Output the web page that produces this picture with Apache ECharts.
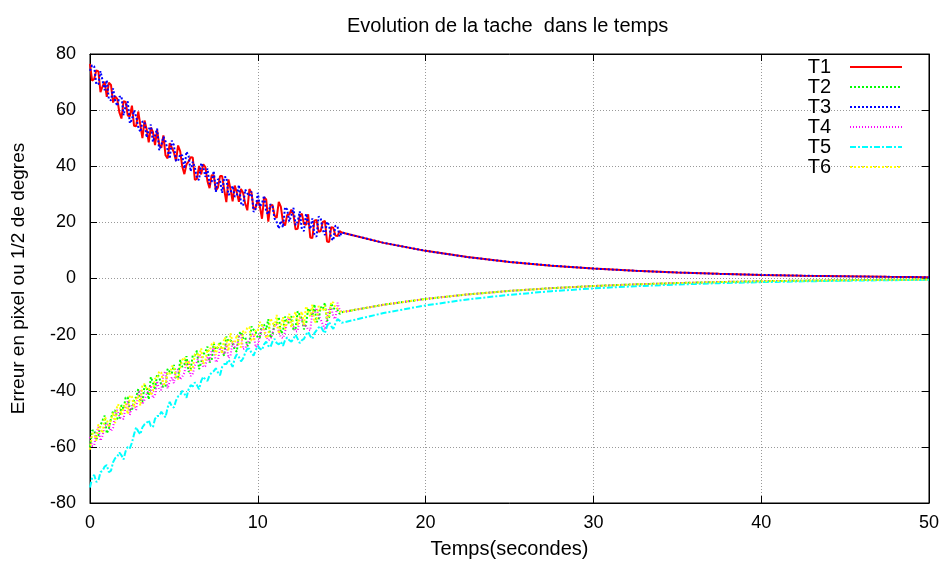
<!DOCTYPE html>
<html>
<head>
<meta charset="utf-8">
<title>Evolution de la tache</title>
<script src="https://cdn.jsdelivr.net/npm/echarts@6/dist/echarts.min.js"></script>
<style>
  html, body { margin: 0; padding: 0; background: #fff; }
  #chart { width: 942px; height: 564px; }
</style>
</head>
<body>
<div id="chart"></div>
<script>
// temps (s) de la partie bruitee, puis de la partie lisse
const tNoisy = [0, 0.125, 0.25, 0.375, 0.5, 0.625, 0.75, 0.875, 1, 1.125, 1.25, 1.375, 1.5, 1.625, 1.75, 1.875,
  2, 2.125, 2.25, 2.375, 2.5, 2.625, 2.75, 2.875, 3, 3.125, 3.25, 3.375, 3.5, 3.625, 3.75, 3.875,
  4, 4.125, 4.25, 4.375, 4.5, 4.625, 4.75, 4.875, 5, 5.125, 5.25, 5.375, 5.5, 5.625, 5.75, 5.875,
  6, 6.125, 6.25, 6.375, 6.5, 6.625, 6.75, 6.875, 7, 7.125, 7.25, 7.375, 7.5, 7.625, 7.75, 7.875,
  8, 8.125, 8.25, 8.375, 8.5, 8.625, 8.75, 8.875, 9, 9.125, 9.25, 9.375, 9.5, 9.625, 9.75, 9.875,
  10, 10.125, 10.25, 10.375, 10.5, 10.625, 10.75, 10.875, 11, 11.125, 11.25, 11.375, 11.5, 11.625, 11.75, 11.875,
  12, 12.125, 12.25, 12.375, 12.5, 12.625, 12.75, 12.875, 13, 13.125, 13.25, 13.375, 13.5, 13.625, 13.75, 13.875,
  14, 14.125, 14.25, 14.375, 14.5, 14.625, 14.75, 14.875]
const tSmooth = [15, 17.5, 20, 22.5, 25, 27.5, 30, 32.5, 35, 37.5, 40, 42.5, 45, 47.5, 50]

const t1Noisy = [76.5, 70.5, 71.1, 74.2, 73.8, 66.4, 68.5, 70.1, 64.7, 69.8, 69.0, 62.7, 64.9, 64.0, 59.2, 57.0,
  63.2, 62.9, 58.1, 57.8, 61.6, 54.4, 54.2, 59.5, 54.7, 50.0, 56.3, 53.2, 48.5, 53.8, 52.2, 47.5,
  52.9, 47.7, 46.6, 51.0, 43.9, 42.8, 48.2, 46.6, 45.0, 41.9, 47.4, 45.3, 39.8, 37.2, 40.7, 41.7,
  43.2, 43.1, 35.1, 35.6, 40.1, 37.1, 40.7, 39.7, 34.7, 32.2, 36.8, 36.8, 31.4, 32.4, 36.5, 36.5,
  31.6, 27.2, 35.3, 31.9, 27.5, 33.1, 30.7, 27.3, 31.9, 30.5, 26.7, 24.3, 31.9, 30.5, 24.7, 25.3,
  28.0, 25.6, 21.3, 29.0, 28.2, 20.3, 26.0, 26.2, 22.4, 21.6, 27.3, 25.5, 20.2, 18.9, 22.6, 22.8,
  24.5, 22.7, 17.5, 17.7, 22.4, 23.1, 19.4, 19.1, 22.9, 14.6, 14.4, 20.6, 20.9, 16.6, 16.9, 20.2,
  20.5, 13.2, 13.0, 18.3, 18.1, 15.3, 15.1, 16.9]
const t3Noisy = [74.0, 76.0, 75.6, 69.2, 69.3, 73.9, 70.5, 67.1, 70.7, 63.8, 63.5, 67.7, 63.4, 61.5, 64.7, 65.0,
  58.2, 61.4, 63.1, 55.3, 56.6, 59.9, 57.7, 54.0, 52.2, 56.0, 55.8, 50.2, 53.0, 54.8, 48.7, 51.0,
  53.4, 45.7, 47.6, 50.5, 48.9, 45.8, 42.7, 49.1, 47.5, 41.9, 41.9, 44.3, 43.8, 39.2, 45.2, 43.7,
  38.2, 41.6, 39.6, 35.6, 35.1, 41.1, 39.7, 36.2, 39.2, 33.7, 34.3, 38.3, 30.9, 35.4, 35.0, 30.5,
  36.1, 36.2, 29.8, 30.4, 33.0, 29.1, 29.7, 33.3, 26.9, 26.0, 31.7, 30.3, 29.4, 31.0, 23.7, 24.8,
  30.5, 25.6, 26.8, 29.5, 23.7, 22.8, 26.5, 25.7, 21.4, 20.1, 17.8, 20.5, 18.2, 25.4, 24.6, 20.3,
  22.5, 25.2, 19.0, 20.2, 23.9, 17.6, 16.9, 23.1, 19.9, 17.6, 21.4, 15.6, 14.9, 22.1, 21.4, 17.2,
  15.5, 20.2, 19.0, 14.3, 13.6, 18.8, 18.6, 14.9]
const upperSmooth = [16.4, 12.7, 9.85, 7.63, 5.91, 4.58, 3.55, 2.75, 2.13, 1.65, 1.28, 0.99, 0.77, 0.59, 0.46]

const t2Noisy = [-60.0, -54.2, -54.0, -57.3, -56.0, -52.3, -50.6, -48.9, -55.2, -53.5, -49.9, -47.2, -47.0, -49.9, -50.2, -45.1,
  -46.5, -42.4, -42.3, -46.7, -47.1, -43.0, -42.4, -39.4, -43.8, -43.8, -38.2, -38.7, -43.1, -35.1, -37.1, -39.6,
  -34.1, -35.1, -38.1, -38.6, -38.6, -32.2, -33.2, -33.8, -30.8, -35.4, -35.4, -29.0, -31.5, -30.6, -27.7, -33.3,
  -32.3, -27.4, -27.5, -25.7, -32.3, -29.9, -27.0, -26.2, -24.3, -29.9, -29.0, -23.2, -25.3, -24.5, -22.6, -26.3,
  -27.5, -20.7, -22.3, -22.0, -23.2, -25.4, -26.1, -19.8, -19.0, -21.2, -20.9, -24.1, -23.3, -17.1, -18.3, -19.0,
  -21.2, -21.0, -16.2, -16.5, -18.2, -14.5, -21.2, -20.0, -16.2, -16.0, -13.7, -19.5, -18.8, -13.6, -15.8, -15.6,
  -13.4, -18.2, -17.9, -11.7, -13.0, -14.3, -18.1, -16.4, -10.7, -11.5, -13.3, -9.2, -15.5, -14.8, -10.1, -10.9,
  -8.7, -15.1, -13.9, -8.8, -10.6, -10.9, -11.2, -12.6]
const t4Noisy = [-56.5, -59.7, -59.5, -54.8, -53.0, -57.8, -56.1, -52.4, -51.7, -52.5, -54.4, -53.2, -48.0, -46.9, -49.2, -50.1,
  -50.0, -45.4, -43.8, -48.7, -45.1, -45.0, -46.9, -40.9, -39.8, -44.8, -43.2, -41.2, -40.1, -38.1, -42.6, -41.6,
  -36.6, -39.6, -39.6, -34.1, -33.1, -39.2, -36.7, -35.3, -37.3, -32.9, -32.4, -36.0, -35.0, -33.6, -29.7, -29.3,
  -34.8, -33.9, -31.0, -29.7, -27.3, -27.4, -31.5, -31.2, -27.8, -29.4, -25.5, -24.7, -29.8, -29.0, -24.6, -25.8,
  -27.0, -23.2, -28.3, -27.5, -22.2, -24.4, -24.1, -20.8, -20.0, -25.2, -24.9, -23.1, -21.8, -20.1, -19.8, -24.5,
  -23.7, -20.5, -17.7, -17.5, -20.7, -22.0, -21.7, -19.5, -16.7, -16.5, -18.7, -21.0, -21.3, -19.1, -14.8, -14.1,
  -16.9, -17.2, -18.9, -18.7, -14.0, -14.3, -17.1, -16.9, -18.2, -18.5, -12.3, -12.2, -10.5, -13.3, -14.6, -16.4,
  -18.2, -14.6, -10.4, -10.3, -13.6, -14.4, -8.7, -11.1]
const t6Noisy = [-61.0, -55.2, -55.5, -57.8, -52.0, -53.3, -55.1, -49.4, -50.2, -53.0, -50.4, -47.7, -51.5, -44.9, -45.2, -48.6,
  -46.0, -44.4, -48.3, -41.7, -42.1, -46.0, -42.9, -41.9, -45.3, -37.8, -37.7, -39.2, -39.1, -41.6, -40.1, -35.6,
  -35.6, -33.1, -33.6, -37.6, -37.6, -33.7, -34.2, -31.3, -31.3, -35.4, -35.9, -32.0, -29.0, -28.1, -31.2, -29.3,
  -32.8, -31.9, -27.0, -26.7, -27.8, -24.9, -30.5, -29.2, -25.3, -25.9, -23.5, -22.7, -27.3, -23.5, -23.6, -26.8,
  -21.0, -21.7, -25.8, -19.5, -22.7, -22.9, -20.1, -23.8, -24.5, -18.7, -19.4, -17.6, -17.3, -22.1, -21.8, -18.5,
  -18.7, -15.5, -16.7, -18.5, -21.2, -20.5, -14.2, -15.5, -17.2, -13.0, -19.7, -17.0, -13.8, -18.1, -15.3, -12.6,
  -17.4, -13.7, -11.9, -16.7, -13.5, -11.8, -16.6, -9.9, -11.7, -13.5, -9.3, -15.7, -15.0, -9.8, -11.1, -11.4,
  -9.7, -14.1, -13.4, -8.3, -8.6, -10.4, -10.7, -11.6]
const lowerSmooth = [-12.0, -9.35, -7.28, -5.67, -4.41, -3.44, -2.68, -2.08, -1.62, -1.26, -0.98, -0.77, -0.60, -0.46, -0.36]

const t5Noisy = [-74.5, -71.0, -70.0, -72.5, -72.0, -69.0, -68.5, -67.0, -66.5, -69.0, -68.5, -65.5, -64.0, -63.5, -62.0, -63.0,
  -64.5, -61.5, -60.0, -60.5, -58.5, -55.5, -53.0, -54.5, -55.5, -53.0, -52.0, -51.5, -50.5, -52.5, -53.0, -50.0,
  -49.0, -49.0, -47.5, -48.5, -49.5, -46.0, -44.0, -45.5, -46.0, -43.5, -42.0, -41.5, -40.0, -41.0, -42.5, -39.5,
  -38.0, -38.5, -37.0, -38.0, -39.5, -36.5, -35.0, -36.0, -36.5, -34.5, -33.5, -33.0, -32.0, -33.5, -34.5, -31.5,
  -30.5, -30.5, -29.0, -30.0, -31.5, -28.5, -27.0, -28.0, -29.5, -28.5, -26.5, -25.0, -25.0, -26.5, -27.5, -25.5,
  -24.0, -25.0, -25.5, -23.5, -22.5, -24.0, -24.5, -22.5, -21.5, -23.0, -23.5, -22.5, -24.0, -22.0, -21.0, -22.0,
  -22.5, -21.5, -20.0, -21.5, -23.0, -22.0, -21.5, -20.0, -19.0, -20.5, -21.5, -19.5, -18.5, -17.5, -17.0, -18.5,
  -19.5, -17.0, -15.5, -17.0, -18.0, -16.0, -14.5, -15.0]
const t5Smooth = [-15.8, -12.3, -9.58, -7.46, -5.81, -4.53, -3.52, -2.74, -2.14, -1.66, -1.30, -1.01, -0.79, -0.61, -0.48]

const xTicks = [0, 10, 20, 30, 40, 50]
const yTicks = [-80, -60, -40, -20, 0, 20, 40, 60, 80]

const times = tNoisy.concat(tSmooth)
const pairs = (vals) => times.map((t, i) => [t, vals[i]])

const font = 'Liberation Sans, Arial, sans-serif'

const makeSeries = (name, vals, color, width, dash) => ({
  name: name,
  type: 'line',
  data: pairs(vals),
  showSymbol: false,
  symbol: 'none',
  lineStyle: { color: color, width: width, type: dash },
  itemStyle: { color: 'rgba(0,0,0,0)', borderWidth: 0 }
})

const chart = echarts.init(document.getElementById('chart'), null, { renderer: 'canvas' })

const frameAxis = {
  axisLine: { show: true, onZero: false, lineStyle: { color: '#000', width: 1 } },
  axisTick: { show: true, inside: true, length: 7, lineStyle: { color: '#000' } },
  axisLabel: { show: false },
  splitLine: { show: false }
}

chart.setOption({
  animation: false,
  backgroundColor: '#fff',
  title: {
    text: 'Evolution de la tache  dans le temps',
    left: 342,
    top: 11,
    textStyle: { fontFamily: font, fontSize: 20, fontWeight: 'normal', color: '#000' }
  },
  legend: {
    orient: 'vertical',
    right: 34,
    top: 52,
    align: 'right',
    itemWidth: 52,
    itemHeight: 10,
    itemGap: 0,
    itemStyle: { opacity: 0 },
    data: ['T1', 'T2', 'T3', 'T4', 'T5', 'T6'],
    textStyle: { fontFamily: font, fontSize: 20, lineHeight: 20, color: '#000', padding: [0, 14, 0, 0] }
  },
  grid: { left: 90, right: 13, top: 54, bottom: 59, show: true, borderColor: '#000', borderWidth: 1 },
  xAxis: [{
    type: 'value',
    min: xTicks[0],
    max: xTicks[xTicks.length - 1],
    interval: 10,
    name: 'Temps(secondes)',
    nameLocation: 'middle',
    nameGap: 36,
    nameTextStyle: { fontFamily: font, fontSize: 20, color: '#000' },
    axisLine: { show: true, onZero: false, lineStyle: { color: '#000' } },
    axisTick: { show: true, inside: true, length: 7, lineStyle: { color: '#000' } },
    axisLabel: { fontFamily: font, fontSize: 18, color: '#000', margin: 11 },
    splitLine: { show: true, lineStyle: { color: '#999', type: [1, 2], width: 1 } }
  }, Object.assign({
    type: 'value', position: 'top', min: 0, max: 50, interval: 10
  }, frameAxis)],
  yAxis: [{
    type: 'value',
    min: yTicks[0],
    max: yTicks[yTicks.length - 1],
    interval: 20,
    name: 'Erreur en pixel ou 1/2 de degres',
    nameLocation: 'middle',
    nameGap: 62,
    nameTextStyle: { fontFamily: font, fontSize: 19, color: '#000' },
    axisLine: { show: true, onZero: false, lineStyle: { color: '#000' } },
    axisTick: { show: true, inside: true, length: 7, lineStyle: { color: '#000' } },
    axisLabel: { fontFamily: font, fontSize: 18, color: '#000', margin: 14 },
    splitLine: { show: true, lineStyle: { color: '#999', type: [1, 2], width: 1 } }
  }, Object.assign({
    type: 'value', position: 'right', min: -80, max: 80, interval: 20
  }, frameAxis)],
  series: [
    makeSeries('T1', t1Noisy.concat(upperSmooth), '#ff0000', 2, 'solid'),
    makeSeries('T2', t2Noisy.concat(lowerSmooth), '#00ff00', 2, [2, 2]),
    makeSeries('T3', t3Noisy.concat(upperSmooth), '#0000ff', 2, [2, 2]),
    makeSeries('T4', t4Noisy.concat(lowerSmooth), '#ff00ff', 2, [1, 2]),
    makeSeries('T5', t5Noisy.concat(t5Smooth), '#00ffff', 2, [6, 2, 2, 2]),
    makeSeries('T6', t6Noisy.concat(lowerSmooth), '#ffff00', 2, [2, 2])
  ]
})
</script>
</body>
</html>
